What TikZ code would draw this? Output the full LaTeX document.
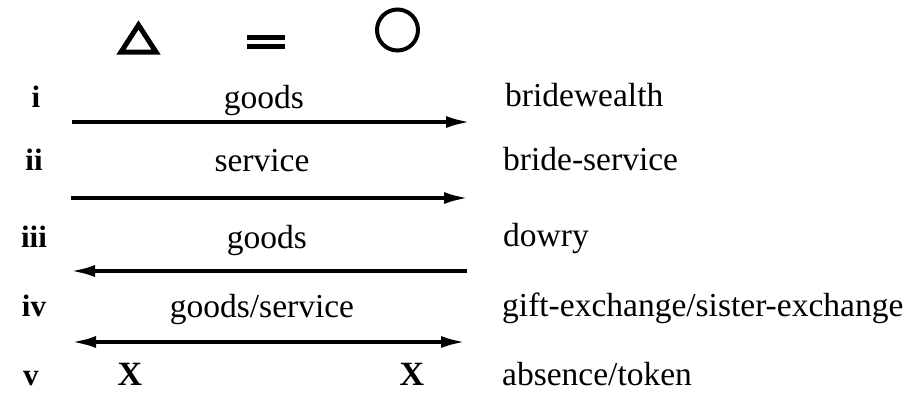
\documentclass[tikz,border=0pt]{standalone}
\usepackage{fontspec}
\setmainfont{Liberation Serif}
\usetikzlibrary{arrows.meta}
\tikzset{
  txt/.style={inner sep=0pt, font=\fontsize{33.5}{37}\selectfont},
  num/.style={inner sep=0pt, font=\fontsize{31}{35}\selectfont\bfseries},
  bigx/.style={inner sep=0pt, font=\fontsize{34}{38}\selectfont\bfseries},
  rel/.style={line width=4pt},
  tip/.style={-{Latex[length=25pt,width=12pt]}},
  sym/.style={line width=5pt},
}
\begin{document}
\begin{tikzpicture}[x=1pt,y=-1pt]
\useasboundingbox (0,0) rectangle (906,392);
% kinship symbols
\draw[sym, line join=miter] (121,52) -- (156,52) -- (138.5,25) -- cycle;
\draw[sym] (247,37.5) -- (285,37.5);
\draw[sym] (247,46.5) -- (285,46.5);
\node[draw, circle, line width=4pt, minimum size=41pt, inner sep=0pt] (circ) at (397.5,30) {};
% row labels
\node[num, anchor=base] (ni) at (36,107) {i};
\node[num, anchor=base] (nii) at (34,170) {ii};
\node[num, anchor=base] (niii) at (34,247) {iii};
\node[num, anchor=base] (niv) at (34,316) {iv};
\node[num, anchor=base] (nv) at (31,385) {v};
% middle labels
\node[txt, anchor=base] (g1) at (264,108) {goods};
\node[txt, anchor=base] (s2) at (262,171) {service};
\node[txt, anchor=base] (g3) at (267,248) {goods};
\node[txt, anchor=base] (gs4) at (262,317) {goods/service};
\node[bigx, anchor=base] (x1) at (130,385) {X};
\node[bigx, anchor=base] (x2) at (412,385) {X};
% right labels
\node[txt, anchor=base west] (r1) at (505,106) {bridewealth};
\node[txt, anchor=base west] (r2) at (503,170) {bride-service};
\node[txt, anchor=base west] (r3) at (503,246) {dowry};
\node[txt, anchor=base west] (r4) at (502,316) {gift-exchange/sister-exchange};
\node[txt, anchor=base west] (r5) at (502,385) {absence/token};
% arrow end points
\coordinate (a1l) at (72,122);  \coordinate (a1r) at (471,122);
\coordinate (a2l) at (71,198);  \coordinate (a2r) at (469,198);
\coordinate (a3l) at (70,271);  \coordinate (a3r) at (467,271);
\coordinate (a4l) at (71,342);  \coordinate (a4r) at (466,342);
\draw[rel, tip] (a1l) -- (a1r);
\draw[rel, tip] (a2l) -- (a2r);
\draw[rel, tip] (a3r) -- (a3l);
\draw[rel, {Latex[length=25pt,width=12pt]}-{Latex[length=25pt,width=12pt]}] (a4l) -- (a4r);
\end{tikzpicture}
\end{document}
